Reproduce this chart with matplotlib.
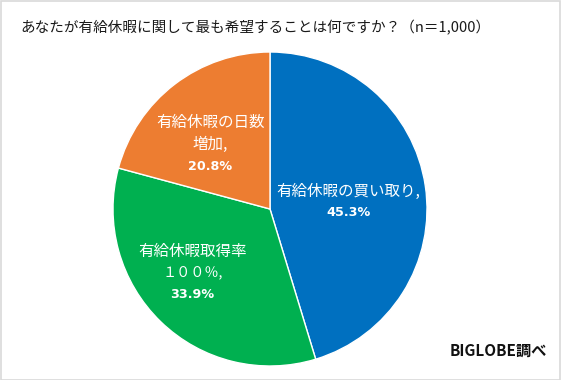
import numpy as np
import matplotlib
matplotlib.use("Agg")
import matplotlib.pyplot as plt
from matplotlib.patches import Rectangle

plt.rcParams["font.family"] = ["Noto Sans CJK JP", "DejaVu Sans"]

TITLE = "あなたが有給休暇に関して最も希望することは何ですか？（n＝1,000）"
CATEGORIES = ["有給休暇の買い取り,", "有給休暇取得率\n１００％,", "有給休暇の日数\n増加,"]
VALUES = [45.3, 33.9, 20.8]
COLORS = ["#0070C0", "#00B050", "#ED7D31"]
# label placement: (radius fraction, angle offset in degrees from wedge middle)
LABEL_POS = [(0.50, -3.4), (0.64, -6.5), (0.56, 5.3)]

W, H = 561, 380
fig = plt.figure(figsize=(W / 100, H / 100), dpi=100)
fig.patches.append(Rectangle((0.5 / W, 0.5 / H), 1 - 1.5 / W, 1 - 1.5 / H,
                             transform=fig.transFigure, fill=False,
                             edgecolor="#d9d9d9", linewidth=1.2))

fig.text(20 / W, 1 - 28 / H, TITLE, fontsize=10.5, va="center", ha="left",
         color="#1a1a1a")

cx, cy, r = 270, 209, 157
ax = fig.add_axes([(cx - r) / W, (H - cy - r) / H, 2 * r / W, 2 * r / H])
wedges, _ = ax.pie(VALUES, colors=COLORS, startangle=90, counterclock=False,
                   wedgeprops=dict(edgecolor="white", linewidth=1.0))
ax.set_xlim(-1, 1)
ax.set_ylim(-1, 1)
ax.set_aspect("equal")
ax.axis("off")

lh = 0.138
for w, cat, val, (rf, da) in zip(wedges, CATEGORIES, VALUES, LABEL_POS):
    ang = np.deg2rad((w.theta1 + w.theta2) / 2 + da)
    x, y = rf * np.cos(ang), rf * np.sin(ang)
    lines = cat.split("\n")
    n = len(lines) + 1
    top = y + lh * n / 2
    for i, line in enumerate(lines):
        fs = 10.2 if "１" in line else 11.2
        ax.text(x, top - lh * (i + 0.5), line, ha="center", va="center",
                color="white", fontsize=fs)
    ax.text(x, top - lh * (n - 0.5), f"{val:.1f}%", ha="center", va="center",
            color="white", fontsize=9.2, fontweight="bold", family="DejaVu Sans")

fig.text(1 - 14 / W, 1 - 351 / H, "BIGLOBE調べ", ha="right", va="center",
         fontsize=11, fontweight="bold", color="#111111")

fig.savefig("out.png", dpi=100)
